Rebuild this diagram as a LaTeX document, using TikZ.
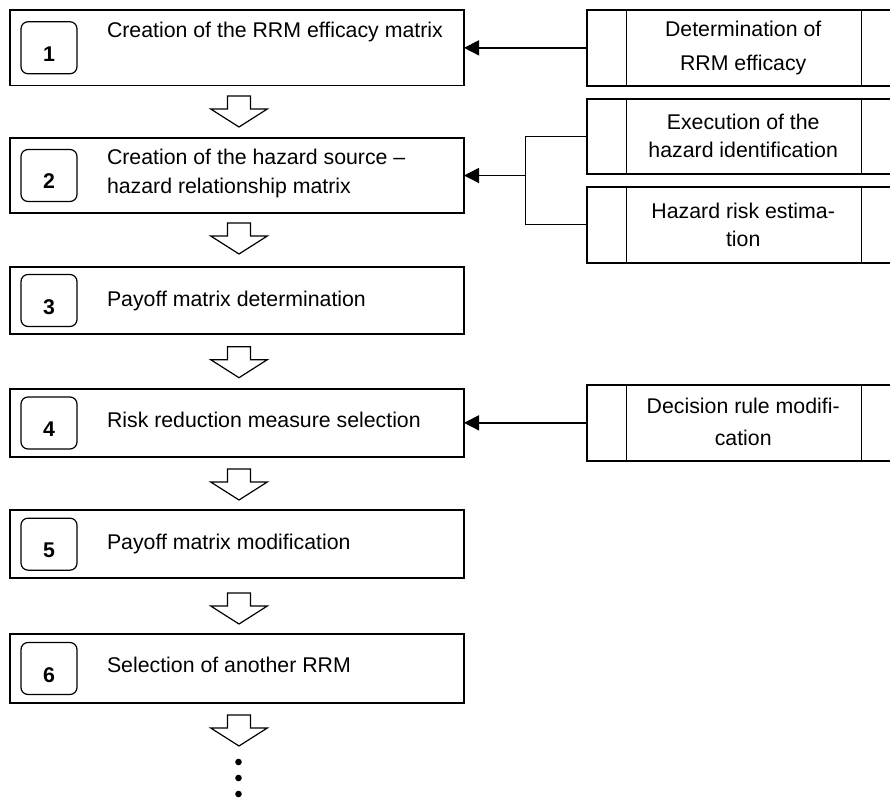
\documentclass[tikz,border=0pt]{standalone}
\usepackage{fontspec}
\setmainfont{Liberation Sans}
\usetikzlibrary{arrows.meta}
\begin{document}
\begin{tikzpicture}[x=1pt,y=-1pt,
  mainbox/.style={draw, line width=1.8pt, minimum width=454pt, inner sep=0pt, outer sep=0pt, anchor=north west},
  numbox/.style={draw, line width=1.2pt, rounded corners=7pt, minimum width=56pt, minimum height=52pt,
     inner sep=0pt, outer sep=0pt, text height=39.5pt, text depth=12.5pt, font=\fontsize{21.3}{27}\bfseries\selectfont},
  sidebox/.style={draw, line width=1.8pt, minimum width=313pt, inner sep=0pt, outer sep=0pt, anchor=north,
     append after command={[line width=1.6pt]
       ([xshift=39pt]\tikzlastnode.north west) edge ([xshift=39pt]\tikzlastnode.south west)
       ([xshift=-39pt]\tikzlastnode.north east) edge ([xshift=-39pt]\tikzlastnode.south east)}},
  txt/.style={inner sep=0pt, outer sep=0pt, anchor=base west, font=\fontsize{21.3}{27}\selectfont},
  ctxt/.style={inner sep=0pt, outer sep=0pt, anchor=base, font=\fontsize{21.3}{27}\selectfont},
  conn/.style={line width=1.5pt},
  hollowarr/.pic={\draw[line width=1.2pt, line join=miter, fill=white]
     (-11.5,0) -- (11.5,0) -- (11.5,13) -- (28.3,13) -- (0,31) -- (-28.3,13) -- (-11.5,13) -- cycle;}
]
\useasboundingbox (0,0) rectangle (890,799);
\clip (0,0) rectangle (890,799);

% main boxes
\node[mainbox, minimum height=75.5pt] (m1) at (10,10) {};
\node[mainbox, minimum height=75.6pt] (m2) at (10,137.7) {};
\node[mainbox, minimum height=67.6pt] (m3) at (10,266.7) {};
\node[mainbox, minimum height=67.4pt] (m4) at (10,389.3) {};
\node[mainbox, minimum height=68.3pt] (m5) at (10,510) {};
\node[mainbox, minimum height=68.4pt] (m6) at (10,634.3) {};

% number boxes
\node[numbox] (n1) at ([xshift=39pt]m1.west) {1};
\node[numbox] (n2) at ([xshift=39pt]m2.west) {2};
\node[numbox] (n3) at ([xshift=39pt]m3.west) {3};
\node[numbox] (n4) at ([xshift=39pt]m4.west) {4};
\node[numbox] (n5) at ([xshift=39pt]m5.west) {5};
\node[numbox] (n6) at ([xshift=39pt]m6.west) {6};

% main texts
\node[txt] (t1) at (107,37.5) {Creation of the RRM efficacy matrix};
\node[txt] (t2) at (107,165) {\begin{tabular}[t]{@{}l@{}}Creation of the hazard source –\\[2pt]hazard relationship matrix\end{tabular}};
\node[txt] (t3) at (107,306) {Payoff matrix determination};
\node[txt] (t4) at (107,427) {Risk reduction measure selection};
\node[txt] (t5) at (107,549) {Payoff matrix modification};
\node[txt] (t6) at (107,672) {Selection of another RRM};

% side boxes
\node[sidebox, minimum height=75.7pt] (rA) at (743.2,10) {};
\node[sidebox, minimum height=75pt] (rB) at (743.2,99) {};
\node[sidebox, minimum height=76pt] (rC) at (743.2,186.7) {};
\node[sidebox, minimum height=75.7pt] (rD) at (743.2,385) {};

\node[ctxt] (sA) at (743.2,36.5) {\begin{tabular}[t]{@{}c@{}}Determination of\\[7pt]RRM efficacy\end{tabular}};
\node[ctxt] (sB) at (743.2,130) {\begin{tabular}[t]{@{}c@{}}Execution of the\\[0.7pt]hazard identification\end{tabular}};
\node[ctxt] (sC) at (743.2,218.3) {\begin{tabular}[t]{@{}c@{}}Hazard risk estima-\\[1.4pt]tion\end{tabular}};
\node[ctxt] (sD) at (743.2,413.3) {\begin{tabular}[t]{@{}c@{}}Decision rule modifi-\\[4.7pt]cation\end{tabular}};

% connectors
\coordinate (j) at (525.7,175.5);
\draw[conn, -{Triangle[length=15pt,width=15pt]}] (rA.west) -- (rA.west -| m1.east);
\draw[conn] (rB.west) -| (j);
\draw[conn] (rC.west) -| (j);
\draw[conn, -{Triangle[length=15pt,width=15pt]}] (j) -- (j -| m2.east);
\draw[conn, -{Triangle[length=15pt,width=15pt]}] (rD.west) -- (rD.west -| m4.east);

% hollow flow arrows
\pic at (239,96) {hollowarr};
\pic at (239,223) {hollowarr};
\pic at (239,346.7) {hollowarr};
\pic at (239,469) {hollowarr};
\pic at (239,593) {hollowarr};
\pic at (239,715) {hollowarr};

% continuation dots
\fill (238.5,762) circle (3.3pt);
\fill (238.5,778) circle (3.3pt);
\fill (238.5,794) circle (3.3pt);
\end{tikzpicture}
\end{document}
